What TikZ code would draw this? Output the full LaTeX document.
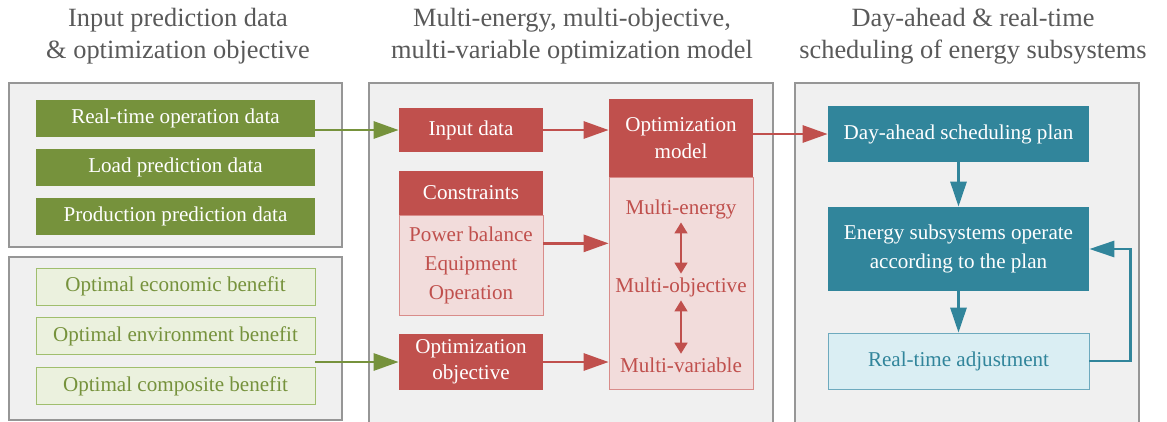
\documentclass[tikz,border=0pt]{standalone}
\usepackage{xcolor}
\usepackage{fontspec}
\setmainfont{Liberation Serif}
\usepackage{tikz}
\usetikzlibrary{shapes,arrows,arrows.meta,positioning,fit,calc}
\definecolor{panelgray}{RGB}{240,240,240}
\definecolor{panelline}{RGB}{150,150,150}
\definecolor{headgray}{RGB}{89,89,89}
\definecolor{boxgreen}{RGB}{118,146,60}
\definecolor{boxltgreen}{RGB}{235,241,222}
\definecolor{lineltgreen}{RGB}{160,190,110}
\definecolor{boxred}{RGB}{192,80,77}
\definecolor{boxltred}{RGB}{242,220,219}
\definecolor{lineltred}{RGB}{217,140,138}
\definecolor{boxteal}{RGB}{49,133,155}
\definecolor{boxltteal}{RGB}{218,238,243}
\definecolor{lineltteal}{RGB}{110,170,190}

\begin{document}
\begin{tikzpicture}[
    font=\fontsize{12}{16}\selectfont,
    panel/.style={draw=panelline, fill=panelgray, line width=0.8pt},
    head/.style={align=center, text=headgray, font=\fontsize{15}{18.5}\selectfont},
    gbox/.style={rectangle, fill=boxgreen, text=white, minimum width=5.58cm, minimum height=0.74cm},
    lgbox/.style={rectangle, draw=lineltgreen, fill=boxltgreen, text=boxgreen, minimum width=5.58cm, minimum height=0.74cm},
    rbox/.style={rectangle, fill=boxred, text=white, align=center, minimum width=2.88cm, font=\fontsize{12}{15}\selectfont},
    lrbox/.style={rectangle, draw=lineltred, fill=boxltred, text=boxred, align=center, minimum width=2.88cm, font=\fontsize{12}{16.5}\selectfont},
    tbox/.style={rectangle, fill=boxteal, text=white, align=center, minimum width=5.22cm, minimum height=1.12cm, font=\fontsize{12}{16.5}\selectfont},
    ltbox/.style={rectangle, draw=lineltteal, fill=boxltteal, text=boxteal, minimum width=5.22cm, minimum height=1.12cm},
    mtext/.style={text=boxred, inner sep=2pt},
    garrow/.style={-{Triangle[length=0.5cm, width=0.34cm]}, line width=1.6pt, draw=boxgreen},
    rarrow/.style={-{Triangle[length=0.5cm, width=0.34cm]}, line width=1.6pt, draw=boxred},
    tarrow/.style={-{Triangle[length=0.5cm, width=0.32cm]}, line width=1.6pt, draw=boxteal},
    darrow/.style={{Triangle[length=0.22cm, width=0.26cm]}-{Triangle[length=0.22cm, width=0.26cm]}, line width=0.9pt, draw=boxred}
]
    \useasboundingbox (0,0) rectangle (23.34,-8.42);

    \node[head] (h1) at (3.56,-0.72) {Input prediction data\\\& optimization objective};
    \node[head] (h2) at (11.44,-0.72) {Multi-energy, multi-objective,\\multi-variable optimization model};
    \node[head] (h3) at (19.46,-0.72) {Day-ahead \& real-time\\scheduling of energy subsystems};

    \draw[panel] (0.18,-1.66) rectangle (6.84,-4.94);
    \draw[panel] (0.18,-5.14) rectangle (6.84,-8.40);
    \draw[panel] (7.38,-1.66) rectangle (15.46,-8.60);
    \draw[panel] (15.90,-1.66) rectangle (22.78,-8.60);

    \node[gbox] (rtd) at (3.51,-2.37) {Real-time operation data};
    \node[gbox, below=0.23cm of rtd] (lpd) {Load prediction data};
    \node[gbox, below=0.23cm of lpd] (ppd) {Production prediction data};

    \node[lgbox] (eco) at (3.51,-5.73) {Optimal economic benefit};
    \node[lgbox, below=0.24cm of eco] (env) {Optimal environment benefit};
    \node[lgbox, below=0.24cm of env] (com) {Optimal composite benefit};

    \node[rbox, minimum height=0.88cm] (inp) at (9.42,-2.60) {Input data};
    \node[rbox, minimum height=0.88cm] (chead) at (9.42,-3.86) {Constraints};
    \node[lrbox, minimum height=2.0cm, below=0pt of chead] (cbody) {Power balance\\Equipment\\Operation};
    \node[rbox, minimum height=1.12cm] (obj) at (9.42,-7.24) {Optimization\\objective};
    \coordinate (cmid) at ($(chead.north east)!0.5!(cbody.south east)$);

    \node[rbox, minimum height=1.56cm] (mhead) at (13.62,-2.76) {Optimization\\model};
    \node[lrbox, minimum height=4.24cm, below=0pt of mhead] (mbody) {};
    \node[mtext] (me) at (13.62,-4.18) {Multi-energy};
    \node[mtext] (mo) at (13.62,-5.74) {Multi-objective};
    \node[mtext] (mv) at (13.62,-7.30) {Multi-variable};

    \node[tbox] (day) at (19.17,-2.68) {Day-ahead scheduling plan};
    \node[tbox, minimum height=1.68cm] (ess) at (19.17,-4.98) {Energy subsystems operate\\according to the plan};
    \node[ltbox] (rta) at (19.17,-7.22) {Real-time adjustment};

    \draw[garrow] (rtd.east |- inp.west) -- (inp.west);
    \draw[garrow] (env.east |- obj.west) -- (obj.west);

    \draw[rarrow] (inp.east) -- (inp.east -| mhead.west);
    \draw[rarrow] (cmid) -- (cmid -| mbody.west);
    \draw[rarrow] (obj.east) -- (obj.east -| mbody.west);
    \draw[darrow] (me) -- (mo);
    \draw[darrow] (mo) -- (mv);
    \draw[rarrow] (mhead.east |- day.west) -- (day.west);

    \draw[tarrow] (day) -- (ess);
    \draw[tarrow] (ess) -- (rta);
    \draw[tarrow] (rta.east) -- ++(0.82,0) |- (ess.east);
\end{tikzpicture}
\end{document}
